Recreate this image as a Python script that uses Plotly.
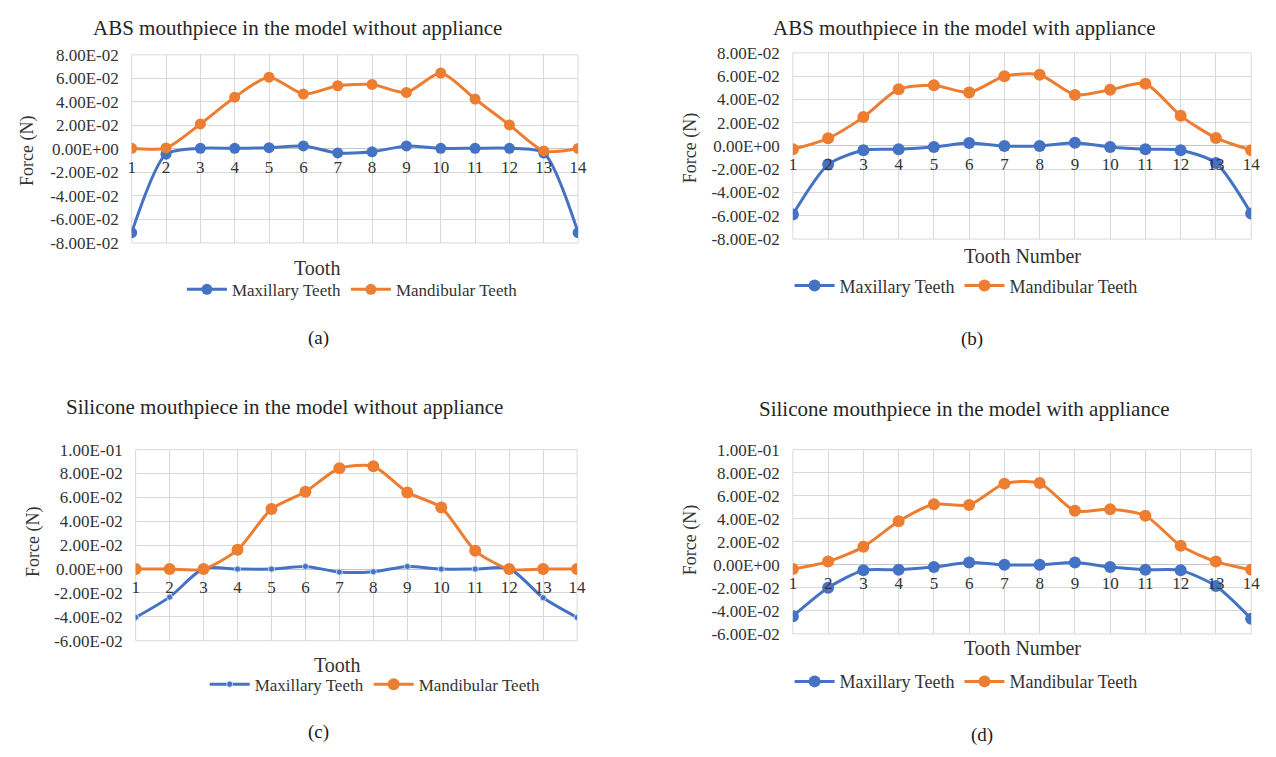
import plotly.graph_objects as go

W, H = 1276, 757

TEETH = [1, 2, 3, 4, 5, 6, 7, 8, 9, 10, 11, 12, 13, 14]

# (a) ABS mouthpiece, model without appliance
A_MAXILLARY = [-0.0712, -0.0045, 0.0005, 0.0005, 0.001, 0.0025, -0.0034, -0.0025,
               0.0025, 0.0005, 0.0005, 0.0005, -0.0035, -0.0712]
A_MANDIBULAR = [0.0005, 0.0008, 0.0212, 0.044, 0.061, 0.0466, 0.0537, 0.0548,
                0.048, 0.0645, 0.0424, 0.0204, -0.0017, 0.0004]

# (b) ABS mouthpiece, model with appliance
B_MAXILLARY = [-0.0588, -0.016, -0.0036, -0.0028, -0.0008, 0.0025, 0.0, 0.0,
               0.0028, -0.0008, -0.0028, -0.0036, -0.0146, -0.058]
B_MANDIBULAR = [-0.0028, 0.0066, 0.0248, 0.0488, 0.0521, 0.046, 0.0599, 0.0612,
                0.0439, 0.0483, 0.0535, 0.0259, 0.0069, -0.0036]

# (c) Silicone mouthpiece, model without appliance
C_MAXILLARY = [-0.0405, -0.0235, 0.0005, 0.0, 0.0, 0.0022, -0.0025, -0.0022,
               0.0022, 0.0, 0.0, 0.0005, -0.024, -0.0405]
C_MANDIBULAR = [0.0, 0.0, 0.0, 0.0161, 0.0503, 0.0648, 0.0844, 0.0861,
                0.0642, 0.0516, 0.0153, 0.0, 0.0, 0.0]

# (d) Silicone mouthpiece, model with appliance
D_MAXILLARY = [-0.0446, -0.0199, -0.0048, -0.0043, -0.002, 0.002, 0.0, 0.0,
               0.002, -0.002, -0.0043, -0.0048, -0.0185, -0.0469]
D_MANDIBULAR = [-0.0037, 0.0028, 0.0156, 0.0378, 0.0526, 0.052, 0.0705, 0.071,
                0.0469, 0.0483, 0.0426, 0.0165, 0.0028, -0.0043]

TITLES = ["ABS mouthpiece in the model without appliance",
          "ABS mouthpiece in the model with appliance",
          "Silicone mouthpiece in the model without appliance",
          "Silicone mouthpiece in the model with appliance"]
X_TITLES = ["Tooth", "Tooth Number", "Tooth", "Tooth Number"]
Y_TITLE = "Force (N)"
PANEL_LABELS = ["(a)", "(b)", "(c)", "(d)"]
SERIES_NAMES = ["Maxillary Teeth", "Mandibular Teeth"]

Y_TICKS_AB = [-0.08, -0.06, -0.04, -0.02, 0.0, 0.02, 0.04, 0.06, 0.08]
Y_TICKS_CD = [-0.06, -0.04, -0.02, 0.0, 0.02, 0.04, 0.06, 0.08, 0.10]

BLUE = "#4472C4"
ORANGE = "#ED7D31"
GRID = "#D9D9D9"
TEXT = "#333333"
FONT = "Liberation Serif, Times New Roman, serif"

# layout in pixels (left, right), (top, bottom) of plot areas and text positions
PANELS = [
    dict(series=(A_MAXILLARY, A_MANDIBULAR), ticks=Y_TICKS_AB,
         px=(129, 580), py=(47, 240), title=(297, 19), xt=(316, 266), yt=(24, 146),
         leg=(352, 288), lab=(318, 337), legsize=17, msize=(11, 11)),
    dict(series=(B_MAXILLARY, B_MANDIBULAR), ticks=Y_TICKS_AB,
         px=(797, 1260), py=(45, 236), title=(970, 19), xt=(1029, 253), yt=(693, 143),
         leg=(972, 284), lab=(978, 338), legsize=18, msize=(12, 12)),
    dict(series=(C_MAXILLARY, C_MANDIBULAR), ticks=Y_TICKS_CD,
         px=(133, 579), py=(452, 648), title=(283, 408), xt=(336, 673), yt=(30, 547),
         leg=(375, 693), lab=(318, 742), legsize=17, msize=(6, 12)),
    dict(series=(D_MAXILLARY, D_MANDIBULAR), ticks=Y_TICKS_CD,
         px=(797, 1260), py=(452, 641), title=(970, 410), xt=(1029, 655), yt=(693, 545),
         leg=(972, 690), lab=(988, 745), legsize=18, msize=(12, 12)),
]

fig = go.Figure()
annotations = []
shapes = []

for i, p in enumerate(PANELS):
    n = i + 1
    xs = "x" if n == 1 else f"x{n}"
    ys = "y" if n == 1 else f"y{n}"
    lg = "legend" if n == 1 else f"legend{n}"
    colors = [BLUE, ORANGE]
    for k, vals in enumerate(p["series"]):
        msz = p["msize"][k]
        mline = dict(width=1, color="#BDD7EE") if (n == 3 and k == 0) else dict(width=0)
        fig.add_trace(go.Scatter(
            x=TEETH, y=vals, name=SERIES_NAMES[k], mode="lines+markers",
            line=dict(color=colors[k], width=3, shape="spline", smoothing=0.7),
            marker=dict(size=msz, color=colors[k], line=mline),
            xaxis=xs, yaxis=ys, legend=lg, showlegend=True,
        ))
    ticks = p["ticks"]
    ymin, ymax = ticks[0], ticks[-1]
    dy0 = 1 - p["py"][1] / H
    dy1 = 1 - p["py"][0] / H
    zero_pos = dy0 + (0 - ymin) / (ymax - ymin) * (dy1 - dy0)
    xkey = "xaxis" if n == 1 else f"xaxis{n}"
    ykey = "yaxis" if n == 1 else f"yaxis{n}"
    fig.update_layout(**{
        xkey: dict(domain=[p["px"][0] / W, p["px"][1] / W], anchor="free",
                   position=zero_pos, range=[1, 14], tickvals=TEETH,
                   ticktext=[str(t) for t in TEETH],
                   showgrid=True, gridcolor=GRID, gridwidth=1, zeroline=False,
                   showline=False, ticks="", ticklabelstandoff=6,
                   tickfont=dict(family=FONT, size=17, color=TEXT), fixedrange=True),
        ykey: dict(domain=[dy0, dy1], anchor=xs, range=[ymin, ymax],
                   tickvals=ticks, ticktext=[f"{v:.2E}" for v in ticks],
                   showgrid=True, gridcolor=GRID, gridwidth=1,
                   zeroline=True, zerolinecolor="#C6C6C6", zerolinewidth=1,
                   showline=False, ticks="", ticklabelstandoff=12,
                   tickfont=dict(family=FONT, size=17, color=TEXT), fixedrange=True),
        lg: dict(orientation="h", x=p["leg"][0] / W, y=1 - p["leg"][1] / H,
                 xanchor="center", yanchor="middle", bgcolor="rgba(0,0,0,0)",
                 font=dict(family=FONT, size=p["legsize"], color=TEXT),
                 itemwidth=40),
    })
    shapes.append(dict(type="rect", xref=f"{xs} domain", yref=f"{ys} domain",
                       x0=0, x1=1, y0=0, y1=1, line=dict(color=GRID, width=1),
                       layer="below"))
    annotations.append(dict(text=TITLES[i], x=p["title"][0] / W, y=1 - p["title"][1] / H,
                            xref="paper", yref="paper", showarrow=False,
                            xanchor="center", yanchor="middle",
                            font=dict(family=FONT, size=21, color="#262626")))
    annotations.append(dict(text=X_TITLES[i], x=p["xt"][0] / W, y=1 - p["xt"][1] / H,
                            xref="paper", yref="paper", showarrow=False,
                            xanchor="center", yanchor="middle",
                            font=dict(family=FONT, size=20, color=TEXT)))
    annotations.append(dict(text=Y_TITLE, x=p["yt"][0] / W, y=1 - p["yt"][1] / H,
                            xref="paper", yref="paper", showarrow=False, textangle=-90,
                            xanchor="center", yanchor="middle",
                            font=dict(family=FONT, size=18, color=TEXT)))
    annotations.append(dict(text=PANEL_LABELS[i], x=p["lab"][0] / W, y=1 - p["lab"][1] / H,
                            xref="paper", yref="paper", showarrow=False,
                            xanchor="center", yanchor="middle",
                            font=dict(family=FONT, size=19, color="#1a1a1a")))

fig.update_layout(width=W, height=H, margin=dict(l=0, r=0, t=0, b=0),
                  font=dict(family=FONT, size=17, color=TEXT),
                  paper_bgcolor="white", plot_bgcolor="white",
                  annotations=annotations, shapes=shapes, showlegend=True)

fig.write_html("out.html", include_plotlyjs=True,
               config={"displayModeBar": False},
               post_script="document.body.style.margin='0';")
